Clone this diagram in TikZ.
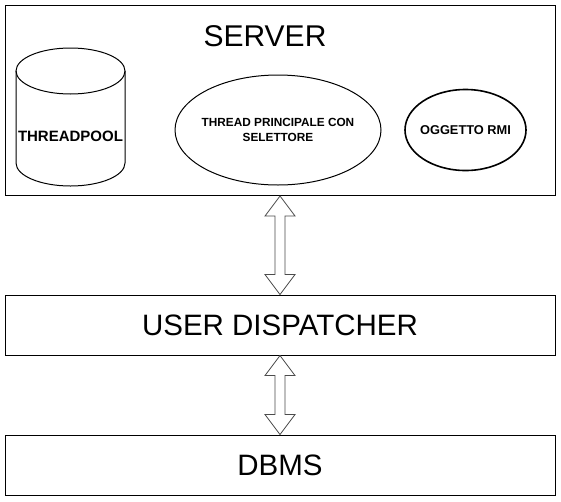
\documentclass[tikz,border=0pt]{standalone}
\usepackage{fontspec}
\setmainfont{Liberation Sans}
\usetikzlibrary{calc,shapes.geometric}
\tikzset{
  layerbox/.style={draw=black, line width=1pt, fill=white},
  bigtext/.style={font=\fontsize{30}{34}\selectfont},
  midtext/.style={font=\fontsize{29.5}{34}\selectfont},
  boldtext/.style={font=\bfseries\fontsize{15}{17}\selectfont},
  smallbold/.style={font=\bfseries\fontsize{11.8}{15}\selectfont, align=center},
  blockarrow/.style={draw=black!70, line width=0.8pt, fill=white, line join=miter}
}
\newcommand{\dblarrow}[2]{%
  \draw[blockarrow] (#1) -- ($(#1)+(15,20)$) -- ($(#1)+(5,20)$) -- ($(#2)+(5,-20)$)
    -- ($(#2)+(15,-20)$) -- (#2) -- ($(#2)+(-15,-20)$) -- ($(#2)+(-5,-20)$)
    -- ($(#1)+(-5,20)$) -- ($(#1)+(-15,20)$) -- cycle;}
\begin{document}
\begin{tikzpicture}[x=1pt, y=-1pt]
\useasboundingbox[fill=white] (0,0) rectangle (561,501);
% boxes
\draw[layerbox] (5,5) rectangle (555,195);
\node[layerbox, minimum width=550pt, minimum height=60pt, inner sep=0pt, midtext] (disp) at (280,325) {USER DISPATCHER};
\node[layerbox, minimum width=550pt, minimum height=60pt, inner sep=0pt, midtext] (dbms) at (280,465) {DBMS};
\coordinate (srvS) at (280,196);
\node[bigtext] (server) at (265,36) {SERVER};
% cylinder
\draw[line width=1pt, fill=white] (16,71) -- (16,163) arc[start angle=180, end angle=360, x radius=54.5, y radius=-23] -- (125,71);
\draw[line width=1pt] (70.5,71) ellipse[x radius=54.5, y radius=23];
\node[boldtext] (pool) at (70.5,136) {THREADPOOL};
% ellipses
\draw[line width=1pt] (278,130) ellipse[x radius=103, y radius=55];
\node[smallbold] (thr) at (278,130) {THREAD PRINCIPALE CON\\SELETTORE};
\draw[line width=1.6pt] (465.5,130) ellipse[x radius=60.5, y radius=40.5];
\node[font=\bfseries\fontsize{12.8}{15}\selectfont] (rmi) at (465.5,130) {OGGETTO RMI};
% arrows
\coordinate (a1t) at (srvS);
\coordinate (a1b) at ($(disp.north)+(0,0)$);
\dblarrow{a1t}{a1b}
\dblarrow{disp.south}{dbms.north}
\end{tikzpicture}
\end{document}
